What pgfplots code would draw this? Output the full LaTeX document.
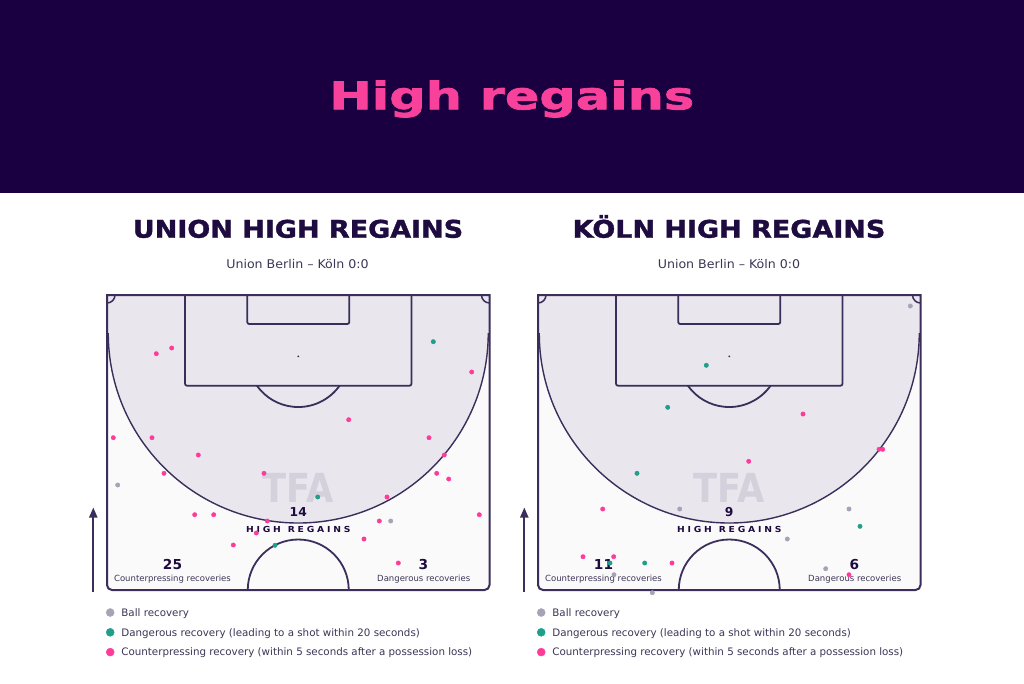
\documentclass[border=0pt]{standalone}
\usepackage{pgfplots}
\usepackage{pgfplotstable}
\pgfplotsset{compat=1.18}
\usepackage{fontspec}
\setmainfont{DejaVu Sans}
\newfontfamily\titlefont[FakeStretch=1.34, FakeBold=2]{DejaVu Sans}
\newfontfamily\hdrfont[FakeStretch=1.11, FakeBold=1.5]{DejaVu Sans}
\newfontfamily\spacedfont[FakeStretch=1.11]{DejaVu Sans}
\newfontfamily\subfont[FakeStretch=1.05]{DejaVu Sans}
\newfontfamily\tfafont[FakeStretch=0.88]{DejaVu Sans}
\usetikzlibrary{arrows.meta}
\definecolor{banner}{HTML}{1B0041}
\definecolor{titlepink}{HTML}{F8419A}
\definecolor{ink}{HTML}{1E0B3F}
\definecolor{inksoft}{HTML}{3D3555}
\definecolor{pline}{HTML}{3B2E5A}
\definecolor{pbg}{HTML}{FAFAFB}
\definecolor{pshade}{HTML}{E9E6EE}
\definecolor{tfa}{HTML}{D4D1DC}
\definecolor{dotpink}{HTML}{FF3B9A}
\definecolor{dotteal}{HTML}{1F9E89}
\definecolor{dotgray}{HTML}{A7A2B5}

% positions in pixels inside each pitch (x from left touchline, y from goal line down)
\pgfplotstableread{
x y
10.7 190
283.7 226
}\leftgray
\pgfplotstableread{
x y
326.3 46.7
210.7 202
168 250.3
}\leftteal
\pgfplotstableread{
x y
49.3 58.7
64.7 53
364.7 77
241.7 124.7
6.3 142.7
45 142.7
322 142.7
91.3 160
337.3 160
57 178.3
157 178.3
329.7 178.3
341.7 184
280 202
87.7 219.7
106.7 219.7
372.3 219.7
160.3 226
272.3 226
149.3 238
126.3 250
257 244
291.3 268
}\leftpink
\pgfplotstableread{
x y
372.3 11
141.7 214
311 214
249.3 244
287.7 273.7
76 279.7
114.3 297.7
}\rightgray
\pgfplotstableread{
x y
168.3 70.3
129.7 112.3
99 178.3
322 231.3
72 268
106.7 268
}\rightteal
\pgfplotstableread{
x y
265 119
341 154.3
344.7 154.3
210.7 166.3
64.7 214
45 261.7
75.7 261.7
134 268
311 279.7
}\rightpink

\newcommand{\pitchpath}{(0,0) -- (0,290) arc(180:90:5) -- (377.5,295) arc(90:0:5) -- (382.5,0) -- cycle}

\newcommand{\pitch}[4]{%
\begin{scope}[shift={(#1,295)}]
  \fill[pbg] \pitchpath;
  \begin{scope}
    \clip \pitchpath;
    \fill[pshade] (0,0) rectangle (382.5,38);
    \fill[pshade] (191.25,38) circle (190);
  \end{scope}
  \draw[pline, line width=1.4pt] (381.25,38) arc(0:180:190);
  \draw[pline, line width=1.8pt, rounded corners=2pt] (78.05,0) -- (78.05,90.7) -- (304.45,90.7) -- (304.45,0);
  \draw[pline, line width=1.8pt, rounded corners=2pt] (140.25,0) -- (140.25,29) -- (242.25,29) -- (242.25,0);
  \fill[pline] (191.25,61.3) circle (1);
  \draw[pline, line width=1.8pt] (232.55,90.7) arc(35.4:144.6:50.7);
  \draw[pline, line width=1.8pt] (241.75,295) arc(0:-180:50.5);
  \draw[pline, line width=1.5pt] (8,0) arc(0:90:8);
  \draw[pline, line width=1.5pt] (374.5,0) arc(180:90:8);
  \draw[pline, line width=2pt] \pitchpath;
  \node[anchor=base, inner sep=0pt, text=tfa, font={\tfafont\bfseries\fontsize{40}{40}\selectfont}] at (191,207.5) {TFA};
  \node[anchor=base, inner sep=0pt, text=ink, font={\bfseries\fontsize{12.3}{13}\selectfont}] at (191.25,221) {#2};
  \node[anchor=base, inner sep=0pt, text=ink, font={\spacedfont\bfseries\fontsize{8.3}{9}\selectfont}] at (191.25,237.7) {H\kern2.8pt I\kern2.8pt G\kern2.8pt H\kern7pt R\kern2.8pt E\kern2.8pt G\kern2.8pt A\kern2.8pt I\kern2.8pt N\kern2.8pt S};
  \node[anchor=base, inner sep=0pt, text=ink, font={\bfseries\fontsize{13.7}{14}\selectfont}] at (65.5,274.3) {#3};
  \node[anchor=base, inner sep=0pt, text=inksoft, font={\fontsize{8.5}{9}\selectfont}] at (65.5,286.7) {Counterpressing recoveries};
  \node[anchor=base, inner sep=0pt, text=ink, font={\bfseries\fontsize{13.7}{14}\selectfont}] at (316.5,274.3) {#4};
  \node[anchor=base, inner sep=0pt, text=inksoft, font={\fontsize{8.5}{9}\selectfont}] at (316.7,286.7) {Dangerous recoveries};
\end{scope}}

\pgfplotsset{
  pitchaxis/.style={
    width=382.5pt, height=295pt, scale only axis,
    xmin=0, xmax=382.5, ymin=0, ymax=295, y dir=reverse,
    hide axis, clip=false,
    legend cell align=left,
    legend image code/.code={\fill[##1] (0pt,0pt) circle (4pt);},
    legend style={at={(axis cs:-1,313.3)}, anchor=north west, draw=none, fill=none,
      inner sep=0pt, outer sep=0pt, font=\fontsize{10.3}{12}\selectfont, text=inksoft,
      row sep=11.4pt, nodes={inner sep=0pt, text height=7.5pt, text depth=0pt},
      /tikz/every odd column/.append style={column sep=7pt}},
  },
  dot/.style={only marks, mark=*, mark size=2.2pt, color=#1, mark options={draw=#1, fill=#1}},
}

\begin{document}
\begin{tikzpicture}
\useasboundingbox (0pt,0pt) rectangle (1024pt,-683pt);
\fill[white] (0pt,0pt) rectangle (1024pt,-683pt);
\begin{scope}[x=1pt, y=-1pt]
  \fill[banner] (0,0) rectangle (1024,192.7);
  \node[anchor=base, inner sep=0pt, text=titlepink, font={\titlefont\bfseries\fontsize{38}{40}\selectfont}] at (511.7,109.3) {High regains};
  \node[anchor=base, inner sep=0pt, text=ink, font={\hdrfont\bfseries\fontsize{24.3}{26}\selectfont}] at (298,237.7) {UNION HIGH REGAINS};
  \node[anchor=base, inner sep=0pt, text=ink, font={\hdrfont\bfseries\fontsize{24.3}{26}\selectfont}] at (729,237.7) {KÖLN HIGH REGAINS};
  \node[anchor=base, inner sep=0pt, text=inksoft, font={\subfont\fontsize{12}{13}\selectfont}] at (297.5,268.7) {Union Berlin – Köln 0:0};
  \node[anchor=base, inner sep=0pt, text=inksoft, font={\subfont\fontsize{12}{13}\selectfont}] at (729,268.7) {Union Berlin – Köln 0:0};
  \pitch{107}{14}{25}{3}
  \pitch{538}{9}{11}{6}
  \draw[pline, line width=2pt, -{Triangle[width=8pt,length=10pt]}] (93.3,591.5) -- (93.3,507.5);
  \draw[pline, line width=2pt, -{Triangle[width=8pt,length=10pt]}] (524.3,591.5) -- (524.3,507.5);
\end{scope}

\begin{axis}[pitchaxis, at={(107pt,-295pt)}, anchor=north west]
  \addplot[dot=dotgray] table[x=x, y=y] {\leftgray};
  \addlegendentry{Ball recovery}
  \addplot[dot=dotteal] table[x=x, y=y] {\leftteal};
  \addlegendentry{Dangerous recovery (leading to a shot within 20 seconds)}
  \addplot[dot=dotpink] table[x=x, y=y] {\leftpink};
  \addlegendentry{Counterpressing recovery (within 5 seconds after a possession loss)}
\end{axis}

\begin{axis}[pitchaxis, at={(538pt,-295pt)}, anchor=north west]
  \addplot[dot=dotgray] table[x=x, y=y] {\rightgray};
  \addlegendentry{Ball recovery}
  \addplot[dot=dotteal] table[x=x, y=y] {\rightteal};
  \addlegendentry{Dangerous recovery (leading to a shot within 20 seconds)}
  \addplot[dot=dotpink] table[x=x, y=y] {\rightpink};
  \addlegendentry{Counterpressing recovery (within 5 seconds after a possession loss)}
\end{axis}
\end{tikzpicture}
\end{document}
